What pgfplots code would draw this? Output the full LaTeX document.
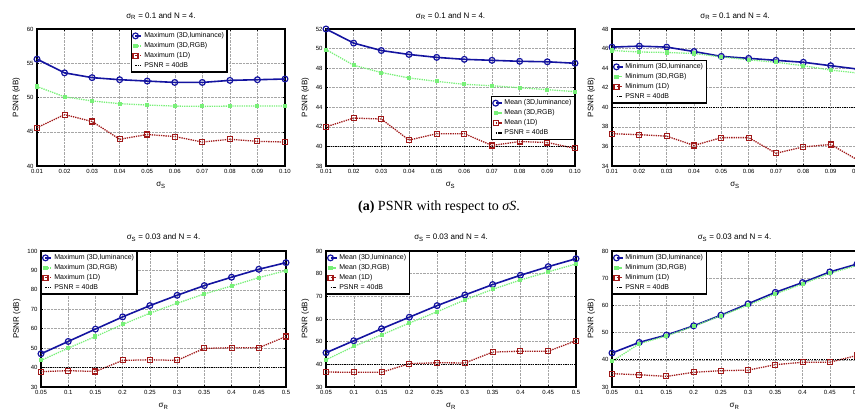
\documentclass[border=0pt]{standalone}
\usepackage{fontspec}
\setmainfont{Liberation Sans}
\newfontfamily\capfont{Liberation Serif}
\usepackage{pgfplots}
\pgfplotsset{compat=1.18}

\definecolor{lumblue}{RGB}{20,20,160}
\definecolor{rgbgreen}{RGB}{120,240,120}
\definecolor{onedred}{RGB}{160,25,25}

\pgfplotsset{
  psnr/.style={scale only axis, clip=false,
    axis line style={line width=1.3pt},
    grid=major, grid style={densely dotted, gray!70, line width=0.5pt},
    tick style={black, line width=0.5pt}, major tick length=2pt,
    tick label style={font=\fontsize{6}{7}\selectfont},
    label style={font=\fontsize{8}{9}\selectfont},
    title style={font=\fontsize{8}{9}\selectfont},
    ylabel={PSNR (dB)}, xlabel style={yshift=-2pt},
    /pgf/number format/assume math mode=true,
    legend cell align=left,
    legend style={font=\fontsize{7}{8}\selectfont, draw=black, line width=1.2pt,
      inner sep=1pt, row sep=-0.6pt, fill=white},
    legend image code/.code={\draw[mark repeat=5, mark phase=1, #1]
      plot coordinates {(0pt,0pt) (3pt,0pt) (6pt,0pt)};}},
  toprow/.style={height=137pt, xmin=0.01, xmax=0.10,
    xtick={0.01,0.02,0.03,0.04,0.05,0.06,0.07,0.08,0.09,0.10},
    xticklabels={0.01,0.02,0.03,0.04,0.05,0.06,0.07,0.08,0.09,0.10},
    title={σ\textsubscript{R} = 0.1 and N = 4.}, xlabel={σ\textsubscript{S}}},
  botrow/.style={height=136pt, xmin=0.05, xmax=0.5,
    xtick={0.05,0.1,0.15,0.2,0.25,0.3,0.35,0.4,0.45,0.5},
    xticklabels={0.05,0.1,0.15,0.2,0.25,0.3,0.35,0.4,0.45,0.5},
    title={σ\textsubscript{S} = 0.03 and N = 4.}, xlabel={σ\textsubscript{R}}},
  lum/.style={color=lumblue, solid, line width=1.6pt, mark=o, mark size=2.9pt,
    mark options={solid, line width=1.2pt}},
  rgb/.style={color=rgbgreen, densely dotted, line width=1.3pt, mark=square*, mark size=1.4pt,
    mark options={solid}},
  oned/.style={color=onedred, densely dotted, line width=1.3pt, mark=square, mark size=2.5pt,
    mark options={solid, line width=1.1pt}},
  ref/.style={color=black, densely dotted, line width=1.3pt, mark=none}
}

\begin{document}
\begin{tikzpicture}
\useasboundingbox (0pt,0pt) rectangle (855pt,-416pt);

% ---------- top row: PSNR vs sigma_S ----------
\begin{axis}[psnr, toprow, width=248pt, at={(37pt,-29pt)}, anchor=north west,
  ymin=40, ymax=60, ytick={40,45,50,55,60},
  legend style={at={(0.379,1)}, anchor=north west}]
\addplot[lum] coordinates {(0.01,55.6) (0.02,53.6) (0.03,52.9) (0.04,52.6) (0.05,52.4)
  (0.06,52.2) (0.07,52.2) (0.08,52.5) (0.09,52.6) (0.10,52.7)};
\addlegendentry{Maximum (3D,luminance)}
\addplot[rgb] coordinates {(0.01,51.6) (0.02,50.1) (0.03,49.5) (0.04,49.1) (0.05,48.9)
  (0.06,48.75) (0.07,48.7) (0.08,48.75) (0.09,48.75) (0.10,48.75)};
\addlegendentry{Maximum (3D,RGB)}
\addplot[oned] coordinates {(0.01,45.6) (0.02,47.5) (0.03,46.5) (0.04,43.9) (0.05,44.6)
  (0.06,44.3) (0.07,43.5) (0.08,43.9) (0.09,43.6) (0.10,43.5)};
\addlegendentry{Maximum (1D)}
\addplot[ref] coordinates {(0.01,40) (0.10,40)};
\addlegendentry{PSNR = 40dB}
\end{axis}

\begin{axis}[psnr, toprow, width=249pt, at={(326pt,-29pt)}, anchor=north west,
  ymin=38, ymax=52, ytick={38,40,42,44,46,48,50,52},
  legend style={at={(1,0.19)}, anchor=south east}]
\addplot[lum] coordinates {(0.01,52.0) (0.02,50.56) (0.03,49.8) (0.04,49.4) (0.05,49.1)
  (0.06,48.9) (0.07,48.8) (0.08,48.7) (0.09,48.65) (0.10,48.5)};
\addlegendentry{Mean (3D,luminance)}
\addplot[rgb] coordinates {(0.01,49.9) (0.02,48.3) (0.03,47.55) (0.04,47.0) (0.05,46.65)
  (0.06,46.35) (0.07,46.2) (0.08,46.0) (0.09,45.8) (0.10,45.6)};
\addlegendentry{Mean (3D,RGB)}
\addplot[oned] coordinates {(0.01,42.0) (0.02,42.9) (0.03,42.8) (0.04,40.65) (0.05,41.3)
  (0.06,41.3) (0.07,40.1) (0.08,40.5) (0.09,40.4) (0.10,39.8)};
\addlegendentry{Mean (1D)}
\addplot[ref] coordinates {(0.01,40) (0.10,40)};
\addlegendentry{PSNR = 40dB}
\end{axis}

\begin{axis}[psnr, toprow, width=246pt, at={(612pt,-29pt)}, anchor=north west,
  ymin=34, ymax=48, ytick={34,36,38,40,42,44,46,48},
  legend style={at={(0,0.774)}, anchor=north west}]
\addplot[lum] coordinates {(0.01,46.15) (0.02,46.25) (0.03,46.15) (0.04,45.7) (0.05,45.2)
  (0.06,45.0) (0.07,44.8) (0.08,44.6) (0.09,44.25) (0.10,43.9)};
\addlegendentry{Minimum (3D,luminance)}
\addplot[rgb] coordinates {(0.01,45.8) (0.02,45.65) (0.03,45.6) (0.04,45.5) (0.05,45.15)
  (0.06,44.85) (0.07,44.6) (0.08,44.25) (0.09,43.8) (0.10,43.5)};
\addlegendentry{Minimum (3D,RGB)}
\addplot[oned] coordinates {(0.01,37.3) (0.02,37.2) (0.03,37.05) (0.04,36.1) (0.05,36.9)
  (0.06,36.9) (0.07,35.3) (0.08,35.95) (0.09,36.2) (0.10,34.6)};
\addlegendentry{Minimum (1D)}
\addplot[ref] coordinates {(0.01,40) (0.10,40)};
\addlegendentry{PSNR = 40dB}
\end{axis}

\node[font=\capfont\fontsize{14}{16}\selectfont, anchor=center] at (439pt,-207pt)
  {\textbf{(a)} PSNR with respect to \textit{σS}.};

% ---------- bottom row: PSNR vs sigma_R ----------
\begin{axis}[psnr, botrow, width=245pt, at={(41pt,-251pt)}, anchor=north west,
  ymin=30, ymax=100, ytick={30,40,50,60,70,80,90,100},
  legend style={at={(0,1)}, anchor=north west}]
\addplot[lum] coordinates {(0.05,47.1) (0.1,53.45) (0.15,59.8) (0.2,66.1) (0.25,71.9)
  (0.3,77.2) (0.35,82.2) (0.4,86.5) (0.45,90.6) (0.5,94.0)};
\addlegendentry{Maximum (3D,luminance)}
\addplot[rgb] coordinates {(0.05,43.7) (0.1,50.0) (0.15,56.0) (0.2,62.2) (0.25,68.0)
  (0.3,73.1) (0.35,77.9) (0.4,82.0) (0.45,86.3) (0.5,89.9)};
\addlegendentry{Maximum (3D,RGB)}
\addplot[oned] coordinates {(0.05,37.9) (0.1,38.4) (0.15,38.0) (0.2,43.7) (0.25,44.0)
  (0.3,43.7) (0.35,49.9) (0.4,50.2) (0.45,50.2) (0.5,56.0)};
\addlegendentry{Maximum (1D)}
\addplot[ref] coordinates {(0.05,40) (0.5,40)};
\addlegendentry{PSNR = 40dB}
\end{axis}

\begin{axis}[psnr, botrow, width=250pt, at={(326pt,-251pt)}, anchor=north west,
  ymin=30, ymax=90, ytick={30,40,50,60,70,80,90},
  legend style={at={(0,1)}, anchor=north west}]
\addplot[lum] coordinates {(0.05,45.1) (0.1,50.4) (0.15,55.7) (0.2,60.8) (0.25,65.9)
  (0.3,70.6) (0.35,75.2) (0.4,79.3) (0.45,83.1) (0.5,86.6)};
\addlegendentry{Mean (3D,luminance)}
\addplot[rgb] coordinates {(0.05,42.0) (0.1,47.9) (0.15,53.0) (0.2,58.2) (0.25,63.2)
  (0.3,68.4) (0.35,73.1) (0.4,77.2) (0.45,80.8) (0.5,84.3)};
\addlegendentry{Mean (3D,RGB)}
\addplot[oned] coordinates {(0.05,36.6) (0.1,36.5) (0.15,36.5) (0.2,40.3) (0.25,40.7)
  (0.3,40.6) (0.35,45.4) (0.4,45.8) (0.45,45.8) (0.5,50.4)};
\addlegendentry{Mean (1D)}
\addplot[ref] coordinates {(0.05,40) (0.5,40)};
\addlegendentry{PSNR = 40dB}
\end{axis}

\begin{axis}[psnr, botrow, width=245pt, at={(612pt,-251pt)}, anchor=north west,
  ymin=30, ymax=80, ytick={30,40,50,60,70,80},
  legend style={at={(0,1)}, anchor=north west}]
\addplot[lum] coordinates {(0.05,42.5) (0.1,46.4) (0.15,49.1) (0.2,52.5) (0.25,56.4)
  (0.3,60.6) (0.35,64.8) (0.4,68.4) (0.45,72.3) (0.5,75.2)};
\addlegendentry{Minimum (3D,luminance)}
\addplot[rgb] coordinates {(0.05,39.4) (0.1,45.9) (0.15,48.8) (0.2,52.3) (0.25,56.2)
  (0.3,60.1) (0.35,64.2) (0.4,67.9) (0.45,71.8) (0.5,74.7)};
\addlegendentry{Minimum (3D,RGB)}
\addplot[oned] coordinates {(0.05,34.9) (0.1,34.5) (0.15,33.9) (0.2,35.4) (0.25,36.0)
  (0.3,36.2) (0.35,38.2) (0.4,39.1) (0.45,39.1) (0.5,41.6)};
\addlegendentry{Minimum (1D)}
\addplot[ref] coordinates {(0.05,40) (0.5,40)};
\addlegendentry{PSNR = 40dB}
\end{axis}
\end{tikzpicture}
\end{document}
